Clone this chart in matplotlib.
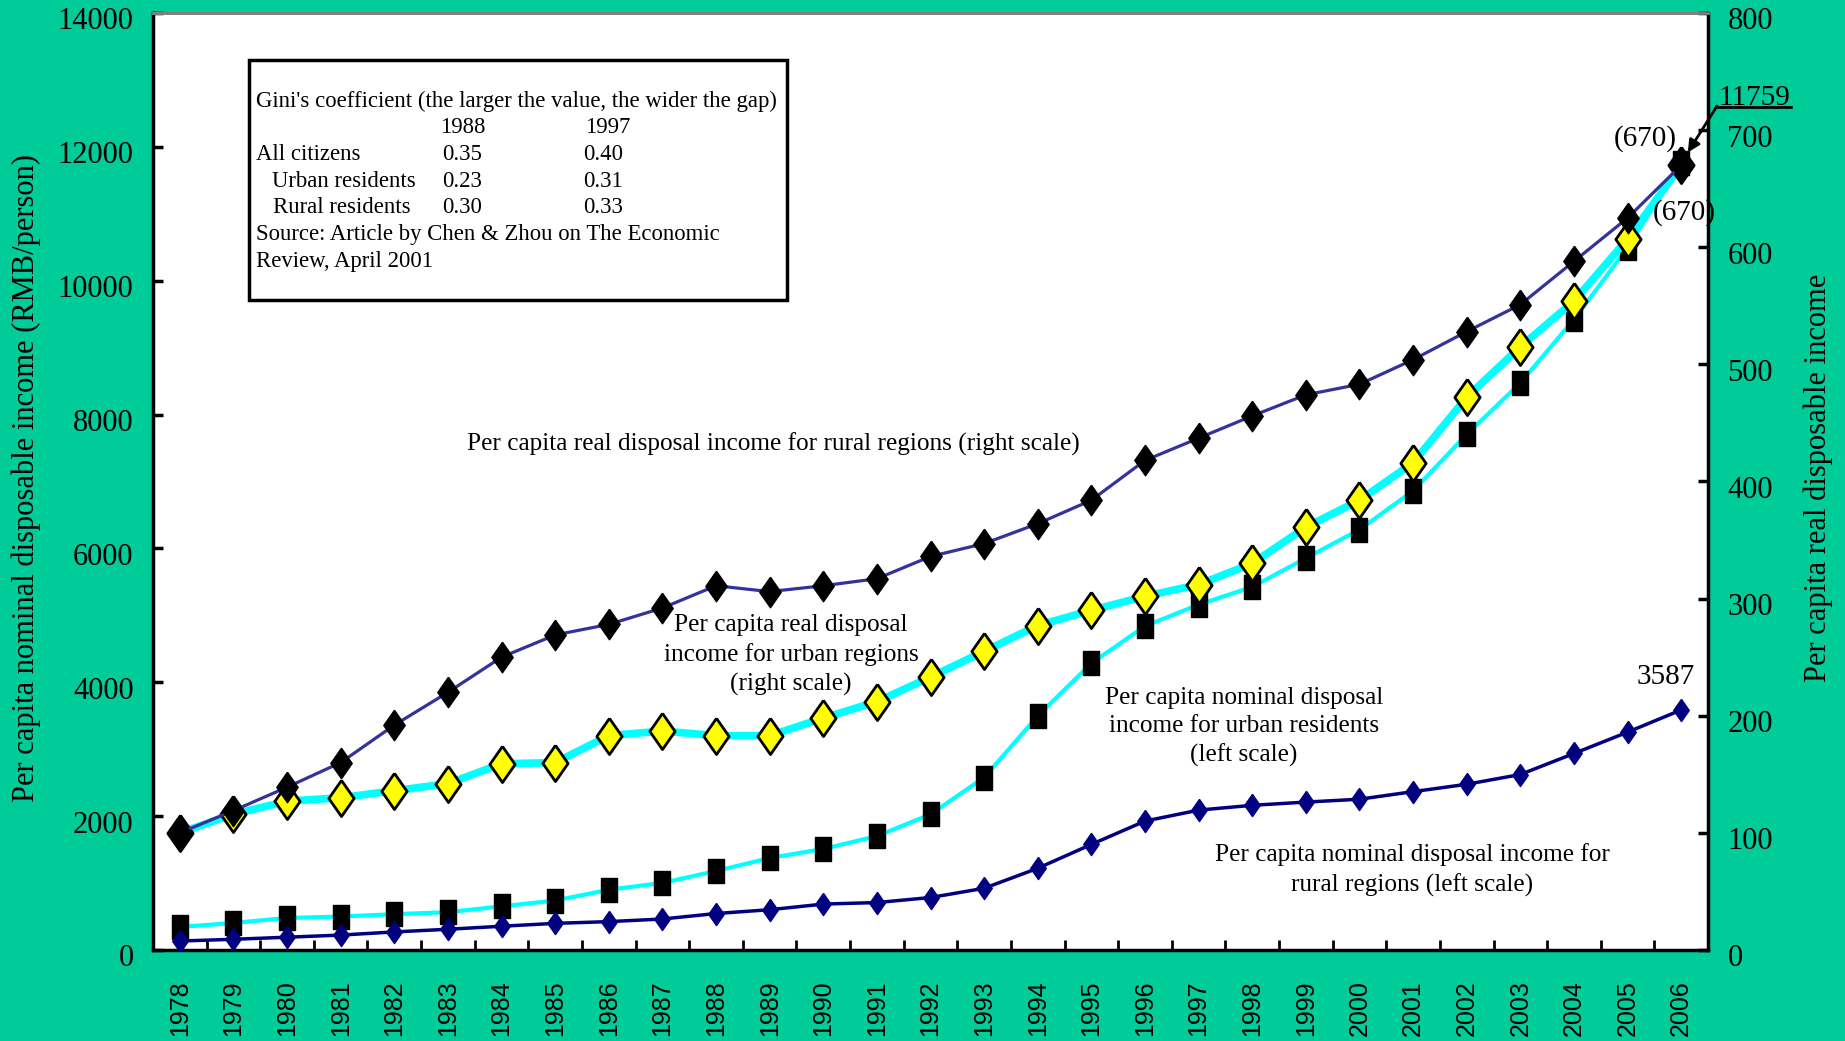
import numpy as np
import matplotlib.pyplot as plt
from matplotlib.lines import Line2D
from matplotlib.patches import Rectangle
from matplotlib.transforms import ScaledTranslation

# Data
years = list(range(1978, 2007))
rural_nominal = [134, 160, 191, 223, 270, 310, 355, 398, 424, 463, 545, 602, 686, 709, 784,
                 922, 1221, 1578, 1926, 2090, 2162, 2210, 2253, 2366, 2476, 2622, 2936, 3255, 3587]
urban_nominal = [343, 405, 478, 500, 535, 565, 652, 739, 900, 1002, 1180, 1374, 1510, 1701, 2027,
                 2577, 3496, 4283, 4839, 5160, 5425, 5854, 6280, 6860, 7703, 8472, 9422, 10493, 11759]
rural_real = [100, 119, 139, 160, 192, 220, 250, 269, 278, 292, 311, 306, 311, 317, 336,
              347, 364, 384, 418, 437, 456, 474, 483, 504, 528, 551, 588, 625, 670]
urban_real = [100, 116, 127, 130, 136, 142, 159, 160, 183, 187, 183, 183, 198, 212, 233,
              255, 277, 290, 302, 312, 330, 361, 384, 416, 472, 515, 554, 607, 670]

gini_header = ["1988", "1997"]
gini_rows = ["All citizens", "Urban residents", "Rural residents"]
gini_1988 = ["0.35", "0.23", "0.30"]
gini_1997 = ["0.40", "0.31", "0.33"]

W, H = 1845, 1041
BG = '#00CC99'
serif = 'Liberation Serif'

def fx(px):
    return px / W

def fy(py):
    return 1 - py / H

# custom marker shapes (tall diamonds / tall rectangles)
tall_diamond = [(0, 1), (0.7, 0), (0, -1), (-0.7, 0), (0, 1)]
tall_rect = [(-0.7, -1), (0.7, -1), (0.7, 1), (-0.7, 1), (-0.7, -1)]

fig = plt.figure(figsize=(W / 100, H / 100), dpi=100, facecolor=BG)
ax = fig.add_axes([fx(153), fy(950), fx(1708 - 153), (950 - 13) / H])
ax.set_facecolor('white')
ax2 = ax.twinx()

x = np.arange(len(years))

# left scale
ax.plot(x, urban_nominal, color='#00FFFF', lw=3, marker=tall_rect, ms=17,
        mfc='black', mec='black', zorder=3)
ax.plot(x, rural_nominal, color='#000080', lw=2.5, marker=tall_diamond, ms=16,
        mfc='#000080', mec='#000080', zorder=3)

# right scale
ax2.plot(x, urban_real, color='#00FFFF', lw=5.5, marker=tall_diamond, ms=26,
         mfc='#FFFF00', mec='black', mew=2, zorder=3)
ax2.plot(x, rural_real, color='#333399', lw=2.3, marker=tall_diamond, ms=22,
         mfc='black', mec='black', zorder=4)

ax.set_xlim(-0.5, len(years) - 0.5)
ax.set_ylim(0, 14000)
ax2.set_ylim(0, 800)
ax.set_yticks(np.arange(0, 14001, 2000))
ax2.set_yticks(np.arange(0, 801, 100))

ax.set_xticks(x)
ax.set_xticklabels([str(y) for y in years], rotation=90, family='Liberation Sans', fontsize=18)
ax.set_xticks(np.arange(-0.5, len(years)), minor=True)
ax.tick_params(axis='x', which='major', length=0, pad=22)
ax.tick_params(axis='x', which='minor', direction='in', length=7, width=2)
ax.tick_params(axis='y', direction='in', length=7, width=2.5, pad=14, labelsize=22)
ax2.tick_params(axis='y', direction='in', length=7, width=2.5, pad=14, labelsize=22)
shift = ScaledTranslation(0, -0.055, fig.dpi_scale_trans)
for lab in ax.get_yticklabels() + ax2.get_yticklabels():
    lab.set_family(serif)
    lab.set_transform(lab.get_transform() + shift)

for a in (ax, ax2):
    a.spines['top'].set_color('#808080')
    a.spines['top'].set_linewidth(2)
ax.spines['left'].set_linewidth(2.5)
ax.spines['bottom'].set_linewidth(2.5)
ax.spines['right'].set_visible(False)
ax2.spines['right'].set_linewidth(2.5)
ax2.spines['left'].set_visible(False)
ax2.spines['bottom'].set_visible(False)

fig.text(fx(26), fy(478), 'Per capita nominal disposable income (RMB/person)', rotation=90,
         ha='center', va='center', family=serif, fontsize=22)
fig.text(fx(1818), fy(478), 'Per capita real disposable income', rotation=90,
         ha='center', va='center', family=serif, fontsize=22)

# series labels
lk = dict(ha='center', va='center', family=serif, fontsize=18.2, linespacing=1.37)
fig.text(fx(773), fy(444), 'Per capita real disposal income for rural regions (right scale)', **lk)
fig.text(fx(791), fy(655), 'Per capita real disposal\nincome for urban regions\n(right scale)', **lk)
fig.text(fx(1244), fy(727), 'Per capita nominal disposal\nincome for urban residents\n(left scale)', **lk)
fig.text(fx(1412), fy(870), 'Per capita nominal disposal income for\nrural regions (left scale)', **lk)

# end-point labels
last = len(years) - 1
ax.annotate(str(rural_nominal[-1]), xy=(last, rural_nominal[-1]), xytext=(-16, 33),
            textcoords='offset pixels', ha='center', va='center', family=serif, fontsize=21)
ax2.annotate('(%d)' % rural_real[-1], xy=(last, rural_real[-1]), xytext=(-36, 27),
             textcoords='offset pixels', ha='center', va='center', family=serif, fontsize=21)
ax2.annotate('(%d)' % urban_real[-1], xy=(last, urban_real[-1]), xytext=(3, -47),
             textcoords='offset pixels', ha='center', va='center', family=serif, fontsize=21)
ax.annotate('', xy=(last, urban_nominal[-1]), xytext=(1717, H - 106), textcoords='figure pixels',
            arrowprops=dict(arrowstyle='-|>', color='black', lw=2, mutation_scale=18,
                            shrinkA=0, shrinkB=9), annotation_clip=False)
fig.text(fx(1754), fy(98), str(urban_nominal[-1]), ha='center', va='center',
         family=serif, fontsize=21)
fig.add_artist(Line2D([fx(1716), fx(1791)], [fy(107), fy(107)], color='black', lw=2))

# Gini box
fig.add_artist(Rectangle((fx(249), fy(300)), fx(787 - 249), (300 - 60) / H,
                         transform=fig.transFigure, facecolor='white', edgecolor='black', lw=2.5))
tk = dict(family=serif, fontsize=16.4, va='baseline', ha='left', zorder=5)
fig.text(fx(256), fy(107), "Gini's coefficient (the larger the value, the wider the gap)", **tk)
fig.text(fx(440), fy(133), gini_header[0], **tk)
fig.text(fx(585), fy(133), gini_header[1], **tk)
row_x = [256, 272, 273]
for i, (r, a, b) in enumerate(zip(gini_rows, gini_1988, gini_1997)):
    yy = 160 + i * 26.7
    fig.text(fx(row_x[i]), fy(yy), r, **tk)
    fig.text(fx(442), fy(yy), a, **tk)
    fig.text(fx(583), fy(yy), b, **tk)
fig.text(fx(256), fy(240), 'Source: Article by Chen & Zhou on The Economic', **tk)
fig.text(fx(256), fy(267), 'Review, April 2001', **tk)

fig.savefig('out.png', dpi=100, facecolor=BG)
